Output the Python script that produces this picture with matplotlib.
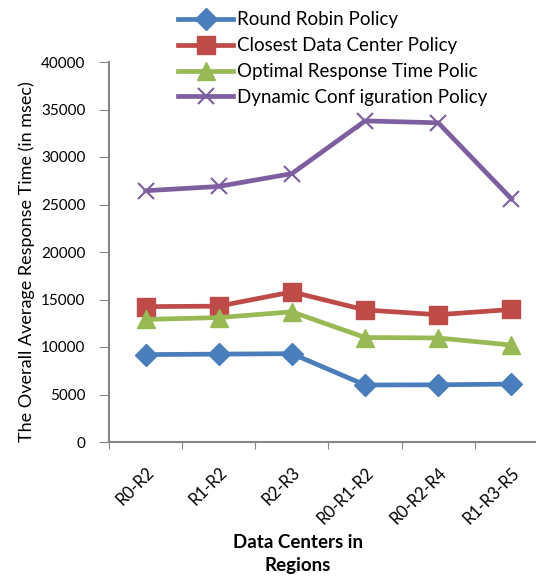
import matplotlib
matplotlib.use("Agg")
import matplotlib.pyplot as plt

plt.rcParams['font.family'] = ['Lato', 'DejaVu Sans']

regions = ["R0-R2", "R1-R2", "R2-R3", "R0-R1-R2", "R0-R2-R4", "R1-R3-R5"]
round_robin = [9200, 9250, 9300, 6000, 6020, 6100]
closest_dc = [14250, 14300, 15800, 13900, 13400, 13950]
optimal_rt = [12900, 13100, 13700, 11000, 10950, 10200]
dynamic_cfg = [26450, 26900, 28250, 33800, 33600, 25600]

series = [
    ("Round Robin Policy", round_robin, "#4a7ebb", "D", 11.5),
    ("Closest Data Center Policy", closest_dc, "#be4b48", "s", 13),
    ("Optimal Response Time Polic", optimal_rt, "#98b954", "^", 13),
    ("Dynamic Conf iguration Policy", dynamic_cfg, "#7d5fa0", "x", 12),
]

W, H = 536, 577
fig = plt.figure(figsize=(W / 100, H / 100), dpi=100)
ax = fig.add_axes([109 / W, 1 - 442 / H, (548 - 109) / W, (442 - 62) / H])

x = list(range(len(regions)))
for name, vals, color, marker, ms in series:
    ax.plot(x, vals, color=color, lw=3.4, marker=marker, ms=ms,
            mew=1.5 if marker == "x" else 1, mec=color, label=name)

ax.set_xlim(-0.5, len(regions) - 0.5)
ax.set_ylim(0, 40000)
ax.set_yticks(range(0, 40001, 5000))
ax.set_xticks([i - 0.5 for i in range(len(regions) + 1)], minor=False)
ax.set_xticklabels([])
ax.set_xticks(x, minor=True)
ax.set_xticklabels(regions, minor=True, rotation=45, ha="right",
                   rotation_mode="anchor", fontsize=12)
ax.tick_params(axis="x", which="minor", length=0, pad=16)
ax.tick_params(axis="x", which="major", length=5, color="#868686", direction="out")
ax.tick_params(axis="y", which="major", length=7, color="#868686",
               labelsize=11, pad=10, direction="out")

for s in ("top", "right"):
    ax.spines[s].set_visible(False)
for s in ("left", "bottom"):
    ax.spines[s].set_color("#868686")
    ax.spines[s].set_linewidth(1.5)

ax.set_ylabel("The Overall Average Response Time (in msec)", fontsize=13)
ax.yaxis.set_label_coords((35 - 109) / (548 - 109), (442 - 262) / (442 - 62))

fig.text(298 / W, 1 - 543 / H, "Data Centers in", ha="center", va="center",
         fontsize=13.5, fontweight="bold")
fig.text(298 / W, 1 - 566 / H, "Regions", ha="center", va="center",
         fontsize=13.5, fontweight="bold")

leg = fig.legend(loc="upper left", bbox_to_anchor=(170.5 / W, 1 - 4 / H),
                 frameon=False, fontsize=13.5, handlelength=2.95,
                 labelspacing=0.47, handletextpad=0.2, borderaxespad=0)

fig.savefig("out.png", dpi=100)
